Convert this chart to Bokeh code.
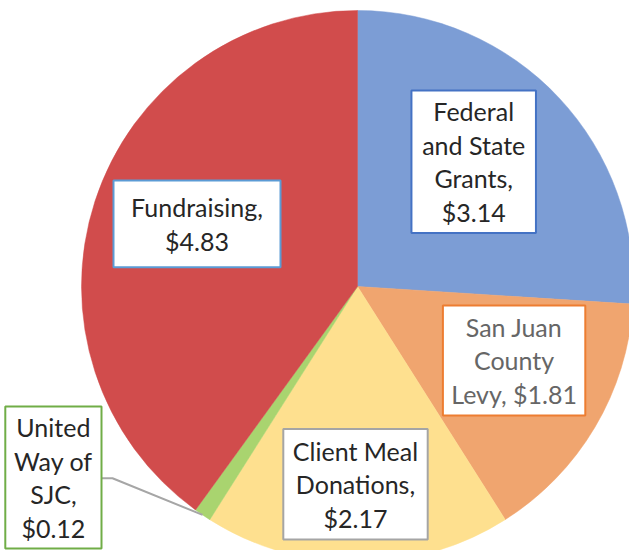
import numpy as np
from bokeh.plotting import figure
from bokeh.models import Range1d
from bokeh.embed import file_html
from bokeh.resources import INLINE
from bokeh.core.properties import value

# ---- data ----
categories = ["Federal and State Grants", "San Juan County Levy",
              "Client Meal Donations", "United Way of SJC", "Fundraising"]
values = [3.14, 1.81, 2.17, 0.12, 4.83]
label_templates = ["Federal\nand State\nGrants,\n${:.2f}",
                   "San Juan\nCounty\nLevy, ${:.2f}",
                   "Client Meal\nDonations,\n${:.2f}",
                   "United\nWay of\nSJC,\n${:.2f}",
                   "Fundraising,\n${:.2f}"]

# ---- styles ----
slice_colors = ["#7C9DD5", "#F0A56F", "#FEE08F", "#A9D46F", "#D14C4C"]
border_colors = ["#4472C4", "#ED7D31", "#A5A5A5", "#70AD47", "#5B9BD5"]
text_colors = ["#262626", "#666666", "#262626", "#262626", "#262626"]

# ---- layout (pixels, y measured from top) ----
W, H = 629, 550
CX, CY_TOP, R = 357, 286, 276
box_cx = [473.2, 513.6, 355.0, 52.9, 196.5]
box_cy = [161.2, 360.0, 483.8, 477.0, 223.3]
box_w = [124.5, 142.4, 144.4, 96.2, 167.0]
box_h = [142.5, 110.0, 110.4, 142.0, 86.7]
CY = H - CY_TOP

labels = [t.format(v) for t, v in zip(label_templates, values)]

frac = np.array(values) / sum(values)
cum = np.concatenate([[0.0], np.cumsum(frac)])
start = (np.pi / 2 - 2 * np.pi * cum[:-1]).tolist()
end = (np.pi / 2 - 2 * np.pi * cum[1:]).tolist()

p = figure(width=W, height=H, x_range=Range1d(0, W), y_range=Range1d(0, H),
           output_backend="svg", toolbar_location=None, min_border=0)
p.axis.visible = False
p.grid.visible = False
p.outline_line_color = None
p.background_fill_color = "white"
p.border_fill_color = "white"

p.wedge(x=CX, y=CY, radius=R, start_angle=start, end_angle=end,
        direction="clock", fill_color=slice_colors, line_color=slice_colors,
        line_width=0.5)

# leader line for the small slice
i = 3
mid = (start[i] + end[i]) / 2
ex, ey = CX + R * np.cos(mid), CY + R * np.sin(mid)
bx = box_cx[i] + box_w[i] / 2
by = H - 477.7
p.line(x=[bx, bx + 11, ex], y=[by, by, ey], line_color="#A6A6A6", line_width=2)

p.rect(x=box_cx, y=[H - c for c in box_cy], width=box_w, height=box_h,
       fill_color="white", line_color=border_colors, line_width=2)

p.text(x=box_cx, y=[H - c for c in box_cy], text=labels,
       text_align="center", text_baseline="middle",
       text_font=value("Lato"), text_font_size="25px",
       text_color=text_colors, text_line_height=1.12)

open("out.html", "w").write(file_html(p, INLINE))
